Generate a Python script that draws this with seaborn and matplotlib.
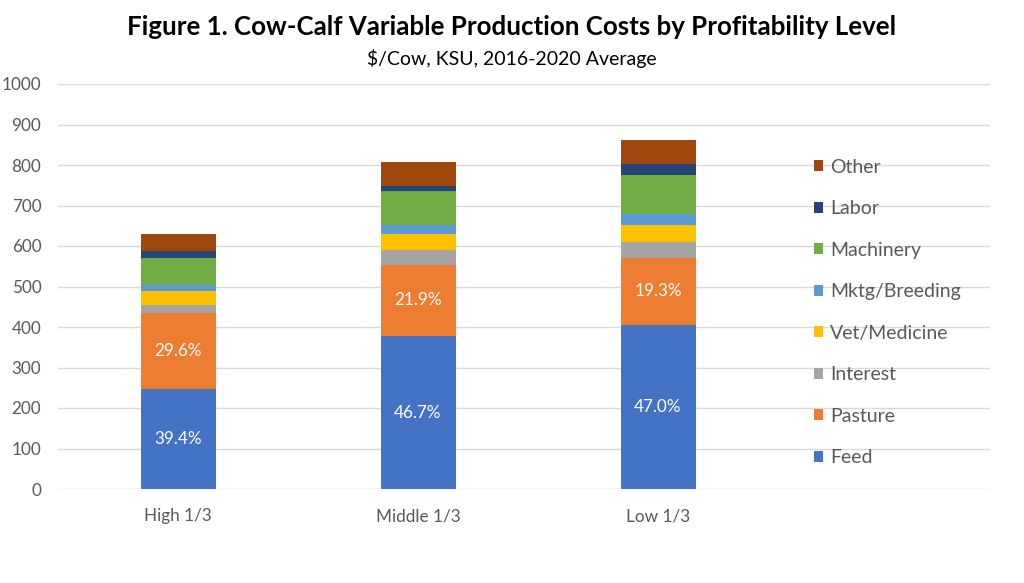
import matplotlib
matplotlib.use("Agg")
import matplotlib.pyplot as plt
import seaborn as sns
import pandas as pd
import numpy as np
from matplotlib.patches import Patch

categories = ["High 1/3", "Middle 1/3", "Low 1/3"]
components = ["Feed", "Pasture", "Interest", "Vet/Medicine", "Mktg/Breeding",
              "Machinery", "Labor", "Other"]
feed = [248, 377, 405]
pasture = [186, 177, 166]
interest = [20, 35, 40]
vet = [35, 41, 40]
mktg = [14, 23, 29]
machinery = [68, 84, 96]
labor = [16, 12, 27]
other = [42, 58, 59]
colors = ["#4472C4", "#ED7D31", "#A5A5A5", "#FFC000", "#5B9BD5",
          "#70AD47", "#264478", "#9E480E"]
labelled = ["Feed", "Pasture"]

series = [feed, pasture, interest, vet, mktg, machinery, labor, other]
vals = np.array(series, dtype=float)
cum = np.cumsum(vals, axis=0)
totals = cum[-1]

sns.set_theme(style="white")
FONT = ["Lato", "DejaVu Sans"]
plt.rcParams["font.family"] = FONT

fig = plt.figure(figsize=(10.24, 5.83), dpi=100)
ax = fig.add_axes([58/1024, 1-489/583, (990-58)/1024, (489-84)/583])

for i in range(len(components) - 1, -1, -1):
    df = pd.DataFrame({"cat": categories, "val": cum[i]})
    sns.barplot(data=df, x="cat", y="val", order=categories, color=colors[i],
                width=0.3125, ax=ax, saturation=1, linewidth=0, zorder=3)

# data labels
for i, comp in enumerate(components):
    if comp in labelled:
        base = cum[i] - vals[i]
        for j in range(len(categories)):
            pct = vals[i][j] / totals[j] * 100
            ax.text(j, base[j] + vals[i][j] / 2, f"{pct:.1f}%", ha="center",
                    va="center", color="white", fontsize=12.3, zorder=5)

ax.set_ylim(0, 1000)
ax.set_xlim(-0.5, (990-178)/240)
ax.set_yticks(range(0, 1001, 100))
ax.yaxis.grid(True, color="#D9D9D9", linewidth=1, zorder=0)
ax.set_axisbelow(True)
for s in ax.spines.values():
    s.set_visible(False)
ax.tick_params(axis="y", length=0, pad=12, labelsize=12.3, labelcolor="#595959")
ax.tick_params(axis="x", length=0, pad=14, labelsize=12.3, labelcolor="#595959")
ax.set_xlabel("")
ax.set_ylabel("")

handles = [Patch(facecolor=c, edgecolor="none") for c in colors][::-1]
leg = ax.legend(handles, components[::-1], loc="center left",
                bbox_to_anchor=((812-58)/(990-58) - 0.017, (489-312.5)/405),
                frameon=False, fontsize=14, handlelength=0.5, handleheight=0.5,
                handletextpad=0.35, labelspacing=1.26)
for t in leg.get_texts():
    t.set_color("#595959")

fig.text(0.5, 1-27/583, "Figure 1. Cow-Calf Variable Production Costs by Profitability Level",
         ha="center", va="center", fontsize=18.6, fontweight="bold", color="black")
fig.text(0.5, 1-58/583, "$/Cow, KSU, 2016-2020 Average", ha="center", va="center",
         fontsize=14, color="black")

fig.savefig("out.png", dpi=100, facecolor="white")
